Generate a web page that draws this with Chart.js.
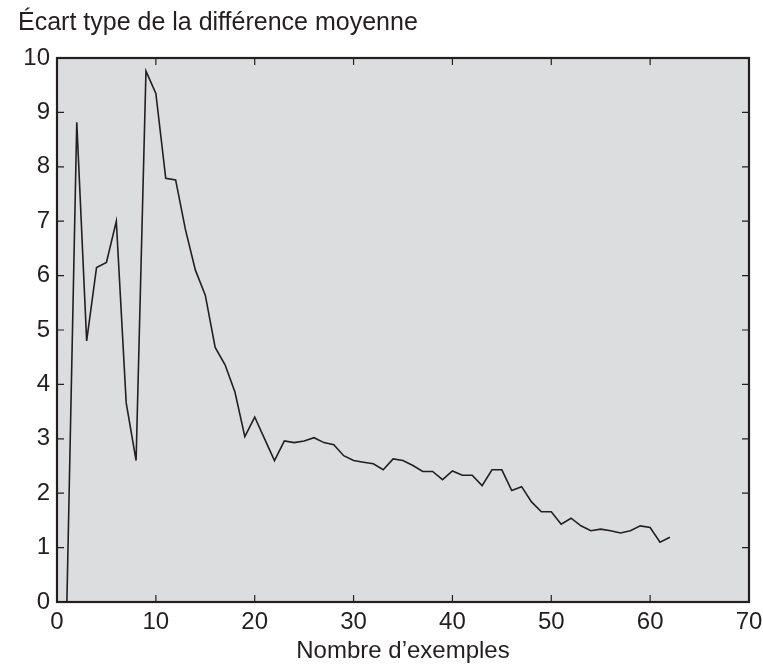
<!DOCTYPE html>
<html lang="fr">
<head>
    <meta charset="UTF-8">
    <title>Écart type de la différence moyenne</title>
    <script src="https://cdnjs.cloudflare.com/ajax/libs/Chart.js/4.4.1/chart.umd.min.js"></script>
    <style>
        body { margin: 0; background: #ffffff; }
        canvas { display: block; }
    </style>
</head>
<body>
    <canvas id="ecartChart" width="763" height="666"></canvas>

    <script>
        // données
        const exemples = [
            1, 2, 3, 4, 5, 6, 7, 8, 9, 10,
            11, 12, 13, 14, 15, 16, 17, 18, 19, 20,
            21, 22, 23, 24, 25, 26, 27, 28, 29, 30,
            31, 32, 33, 34, 35, 36, 37, 38, 39, 40,
            41, 42, 43, 44, 45, 46, 47, 48, 49, 50,
            51, 52, 53, 54, 55, 56, 57, 58, 59, 60,
            61, 62
        ];
        const ecartType = [
            0, 8.82, 4.80, 6.15, 6.24, 7.00, 3.66, 2.60, 9.76, 9.35,
            7.79, 7.76, 6.84, 6.10, 5.64, 4.68, 4.36, 3.86, 3.04, 3.40,
            3.00, 2.60, 2.96, 2.93, 2.96, 3.02, 2.93, 2.89, 2.69, 2.60,
            2.57, 2.54, 2.43, 2.63, 2.60, 2.51, 2.40, 2.40, 2.25, 2.41,
            2.33, 2.33, 2.14, 2.43, 2.43, 2.05, 2.12, 1.84, 1.66, 1.66,
            1.43, 1.54, 1.40, 1.31, 1.34, 1.31, 1.27, 1.31, 1.40, 1.37,
            1.10, 1.19
        ];
        const xTicks = [0, 10, 20, 30, 40, 50, 60, 70];
        const yTicks = [0, 1, 2, 3, 4, 5, 6, 7, 8, 9, 10];

        const ink = "#231f20";
        const fontFamily = "'Liberation Sans', Arial, sans-serif";

        // fond gris, cadre et petites graduations intérieures
        const framePlugin = {
            id: "frame",
            beforeDraw(chart) {
                const { ctx, chartArea: a } = chart;
                ctx.save();
                ctx.fillStyle = "#dcdddf";
                ctx.fillRect(a.left, a.top, a.right - a.left, a.bottom - a.top);
                ctx.restore();
            },
            afterDraw(chart) {
                const { ctx, chartArea: a, scales } = chart;
                const len = 7;
                ctx.save();
                ctx.strokeStyle = ink;
                ctx.lineWidth = 1.2;
                ctx.beginPath();
                xTicks.slice(1, -1).forEach(v => {
                    const px = scales.x.getPixelForValue(v);
                    ctx.moveTo(px, a.bottom); ctx.lineTo(px, a.bottom - len);
                    ctx.moveTo(px, a.top); ctx.lineTo(px, a.top + len);
                });
                yTicks.slice(1, -1).forEach(v => {
                    const py = scales.y.getPixelForValue(v);
                    ctx.moveTo(a.left, py); ctx.lineTo(a.left + len, py);
                    ctx.moveTo(a.right, py); ctx.lineTo(a.right - len, py);
                });
                ctx.stroke();
                ctx.lineWidth = 2.2;
                ctx.strokeRect(a.left, a.top, a.right - a.left, a.bottom - a.top);
                ctx.restore();
            }
        };

        const ctx = document.getElementById("ecartChart").getContext("2d");
        const ecartChart = new Chart(ctx, {
            type: "line",
            data: {
                datasets: [{
                    data: exemples.map((x, i) => ({ x: x, y: ecartType[i] })),
                    borderColor: ink,
                    borderWidth: 1.6,
                    pointRadius: 0,
                    tension: 0,
                    fill: false
                }]
            },
            options: {
                responsive: false,
                animation: false,
                devicePixelRatio: 1,
                layout: { padding: { left: 18, right: 14, top: 0, bottom: 0 } },
                plugins: {
                    legend: { display: false },
                    tooltip: { enabled: false },
                    title: {
                        display: true,
                        text: "Écart type de la différence moyenne",
                        align: "start",
                        color: ink,
                        font: { family: fontFamily, size: 25, weight: "normal" },
                        padding: { top: 8, bottom: 20 }
                    }
                },
                scales: {
                    x: {
                        type: "linear",
                        min: 0,
                        max: 70,
                        afterBuildTicks: s => { s.ticks = xTicks.map(v => ({ value: v })); },
                        afterFit: s => { s.height = 64; s.paddingLeft = 0; s.paddingRight = 0; },
                        grid: { display: false, drawTicks: false },
                        border: { display: false },
                        ticks: {
                            color: ink,
                            padding: 6,
                            maxRotation: 0,
                            font: { family: fontFamily, size: 24 }
                        },
                        title: {
                            display: true,
                            text: "Nombre d’exemples",
                            color: ink,
                            padding: { top: 0, bottom: 0 },
                            font: { family: fontFamily, size: 24 }
                        }
                    },
                    y: {
                        min: 0,
                        max: 10,
                        afterBuildTicks: s => { s.ticks = yTicks.map(v => ({ value: v })); },
                        afterFit: s => { s.width = 39; s.paddingTop = 0; s.paddingBottom = 0; },
                        grid: { display: false, drawTicks: false },
                        border: { display: false },
                        ticks: {
                            color: ink,
                            padding: 7,
                            font: { family: fontFamily, size: 24 }
                        }
                    }
                }
            },
            plugins: [framePlugin]
        });
    </script>
</body>
</html>
